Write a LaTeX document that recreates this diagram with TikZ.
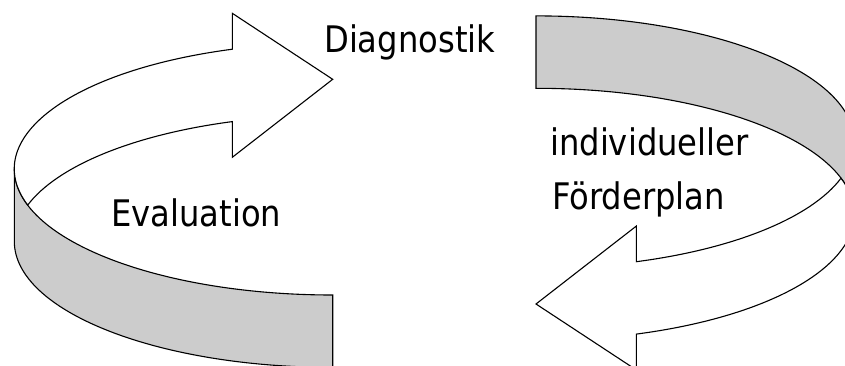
\documentclass[tikz,border=0pt]{standalone}
\usepackage{fontspec}
\setmainfont{DejaVu Sans}[FakeStretch=0.88]
\definecolor{bandgray}{RGB}{204,204,204}
\begin{document}
\begin{tikzpicture}[x=1pt,y=1pt,
  outline/.style={draw=black, line width=1.1pt, line join=miter},
  topface/.style={outline, fill=white},
  sideface/.style={outline, fill=bandgray},
  ring/.style={x radius=318.4, y radius=126.1},
  label/.style={anchor=base west, inner sep=0pt, font=\fontsize{36.6}{54}\selectfont},
  % one curved ribbon arrow: side band plus top face with arrow head
  cyclearrow/.pic={
    \path[sideface] (14.3,196.1) arc[start angle=180, end angle=270, ring]
      -- ++(0,-72.4) arc[start angle=270, end angle=180, ring] -- cycle;
    \path[topface] (232.3,315.8) -- (232.3,351.7) -- (332.7,285.7)
      -- (232.3,207.7) -- (232.3,243.4)
      arc[start angle=108.38, end angle=163.32, ring]
      arc[start angle=196.68, end angle=108.38, ring] -- cycle;
  }]
\useasboundingbox (0,0) rectangle (845,365);
\clip (0,0) rectangle (845,365);

% left arrow (Evaluation -> Diagnostik) and its point mirror on the right
\pic at (0,0) {cyclearrow};
\pic[rotate=180] at (868.7,346.7) {cyclearrow};

\node[label] (diag) at (324,312.3) {Diagnostik};
\node[label] (eval) at (111,138.3) {Evaluation};
\node[label] (plan1) at (550,210) {individueller};
\node[label] (plan2) at (552,156) {Förderplan};
\end{tikzpicture}
\end{document}
